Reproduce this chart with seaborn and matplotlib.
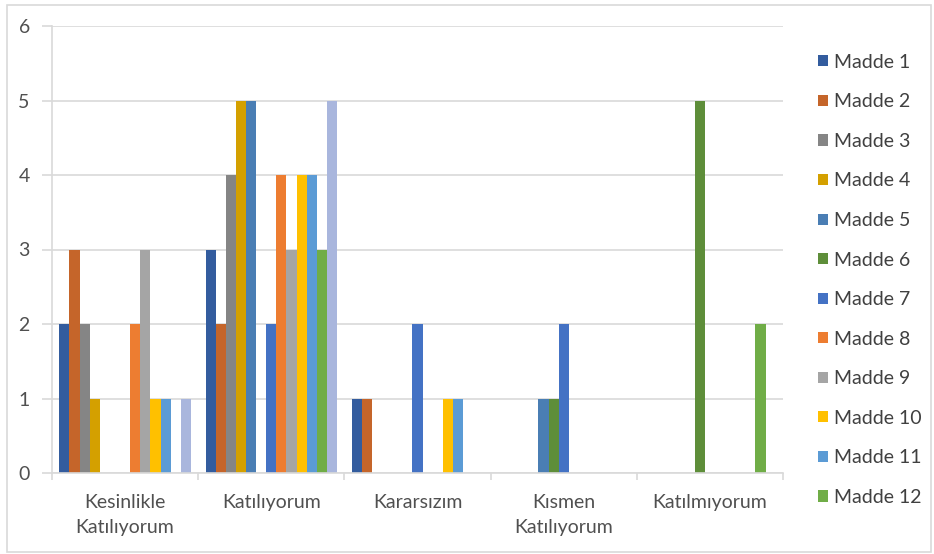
import matplotlib
matplotlib.use("Agg")
import matplotlib.pyplot as plt
import seaborn as sns
import pandas as pd
import numpy as np
from matplotlib.patches import Patch, Rectangle

categories = ["Kesinlikle\nKatılıyorum", "Katılıyorum", "Kararsızım", "Kısmen\nKatılıyorum", "Katılmıyorum"]
series = [f"Madde {i}" for i in range(1, 14)]
m1 = [2, 3, 1, 0, 0]
m2 = [3, 2, 1, 0, 0]
m3 = [2, 4, 0, 0, 0]
m4 = [1, 5, 0, 0, 0]
m5 = [0, 5, 0, 1, 0]
m6 = [0, 0, 0, 1, 5]
m7 = [0, 2, 2, 2, 0]
m8 = [2, 4, 0, 0, 0]
m9 = [3, 3, 0, 0, 0]
m10 = [1, 4, 1, 0, 0]
m11 = [1, 4, 1, 0, 0]
m12 = [0, 3, 0, 0, 2]
m13 = [1, 5, 0, 0, 0]
values = [m1, m2, m3, m4, m5, m6, m7, m8, m9, m10, m11, m12, m13]
yticks = [0, 1, 2, 3, 4, 5, 6]

colors = ["#335C9E", "#C5652A", "#858585", "#D4A000", "#4A7EB4", "#5E8E3A",
          "#4472C4", "#ED7D31", "#A5A5A5", "#FFC000", "#5B9BD5", "#70AD47", "#A9B6DD"]

rows = []
for s, vals in zip(series, values):
    for c, v in zip(categories, vals):
        rows.append({"Kategori": c, "Seri": s, "Deger": v})
df = pd.DataFrame(rows)

sns.set_theme(style="white")
plt.rcParams['font.family'] = ['Lato', 'DejaVu Sans']

fig = plt.figure(figsize=(9.34, 5.54), dpi=100)
ax = fig.add_axes([52/934, 1-473/554, (783-52)/934, (473-26)/554])

sns.barplot(data=df, x="Kategori", y="Deger", hue="Seri", order=categories,
            hue_order=series, palette=colors, width=0.9, gap=0, ax=ax,
            saturation=1, legend=False, edgecolor="none")

ax.set_xlim(-0.5, 4.5)
ax.set_ylim(0, 6)
ax.set_yticks(yticks)
ax.set_yticklabels([str(t) for t in yticks])
ax.yaxis.grid(True, color="#D9D9D9", linewidth=1.2)
ax.set_axisbelow(True)
ax.set_xlabel("")
ax.set_ylabel("")
for s in ["top", "right"]:
    ax.spines[s].set_visible(False)
ax.spines["left"].set_color("#D9D9D9")
ax.spines["bottom"].set_color("#D9D9D9")
ax.spines["left"].set_linewidth(1.2)
ax.spines["bottom"].set_linewidth(1.2)

ax.set_xticks(np.arange(-0.5, 5.0, 1.0), minor=True)
ax.tick_params(axis="x", which="major", length=0, pad=15, labelsize=14, labelcolor="#505050")
ax.tick_params(axis="x", which="minor", length=5, color="#D9D9D9", width=1.2, direction="out", bottom=True)
ax.tick_params(axis="y", which="major", length=7, color="#D9D9D9", width=1.2, left=True,
               pad=9, labelsize=14, labelcolor="#505050")
for lab in ax.get_xticklabels():
    lab.set_linespacing(1.55)
    lab.set_verticalalignment("top")

handles = [Patch(facecolor=colors[i], edgecolor="none", label=series[i]) for i in range(12)]
fig.legend(handles=handles, loc="upper left", bbox_to_anchor=(810/934, 1-46/554),
           frameon=False, fontsize=14, labelcolor="#404040", handlelength=0.5,
           handleheight=0.5, handletextpad=0.36, labelspacing=1.16, borderaxespad=0)

fig.patches.append(Rectangle((7/934, 1-552/554), (931-7)/934, (552-5)/554,
                             transform=fig.transFigure, fill=False,
                             edgecolor="#D9D9D9", linewidth=1.2))

fig.savefig("out.png", dpi=100)
